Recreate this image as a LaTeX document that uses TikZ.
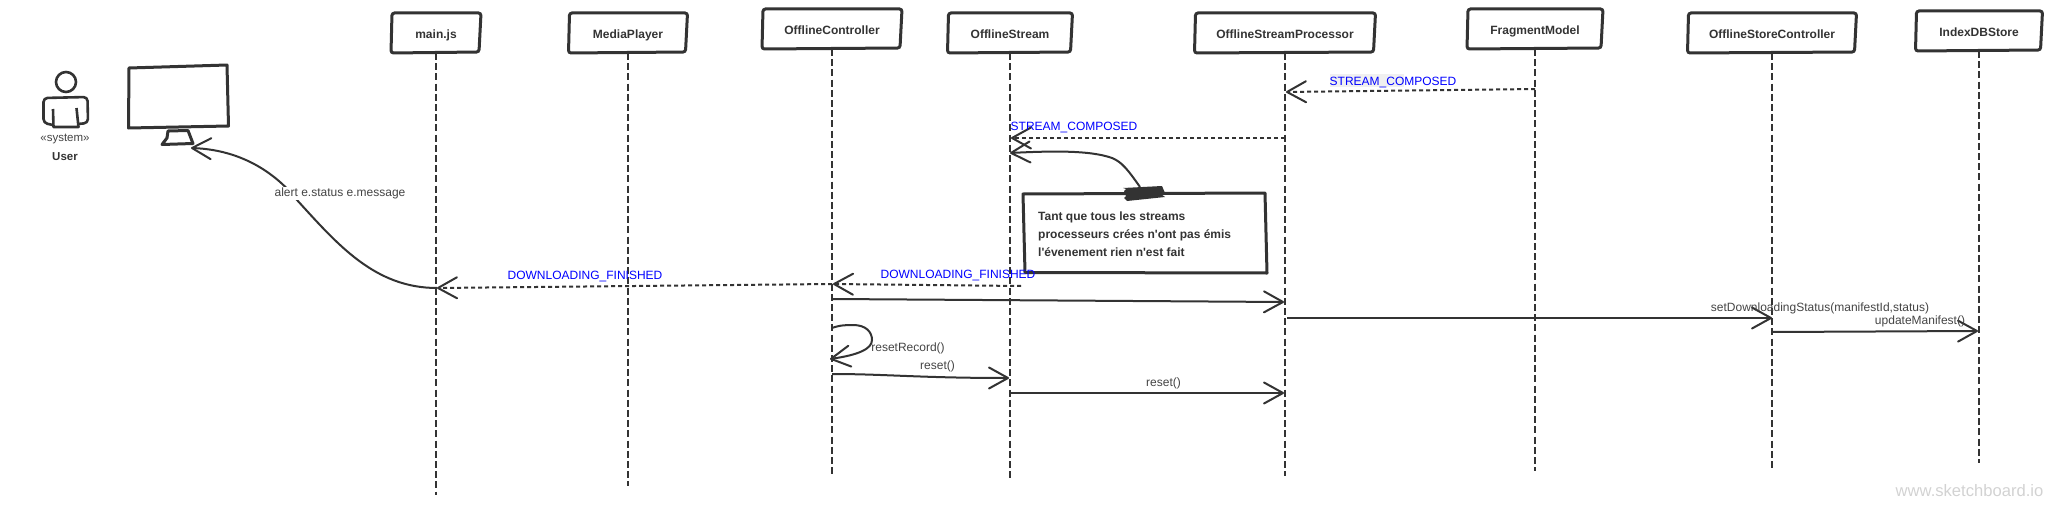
\documentclass[tikz,border=0pt]{standalone}
\usepackage{fontspec}
\setmainfont{Liberation Sans}
\newfontfamily\plainsans{Liberation Sans}
\usetikzlibrary{arrows.meta,calc}
\definecolor{ink}{HTML}{333333}
\definecolor{labelink}{HTML}{444444}
\definecolor{wm}{HTML}{D2D2D2}
\tikzset{
  actor/.style={inner sep=0pt,outer sep=0pt,minimum height=40pt,text height=12pt,text depth=1.4pt,
    text=ink,font=\bfseries\fontsize{12}{14}\selectfont},
  actorline/.style={draw=ink,line width=3pt,rounded corners=2.5pt},
  lifeline/.style={draw=ink,line width=2pt,dash pattern=on 7pt off 3.2pt},
  opentip/.style={-{Straight Barb[length=19pt,width=21pt,line width=2pt,round]}},
  msg/.style={draw=ink,line width=2pt,opentip},
  ret/.style={draw=ink,line width=2pt,opentip,dash pattern=on 4pt off 3pt},
  curvemsg/.style={draw=ink,line width=2pt,opentip},
  lbl/.style={text=labelink,font=\fontsize{12}{14}\selectfont,inner sep=0pt,yshift=-1.3pt},
  evt/.style={text=blue,font=\fontsize{12}{14}\selectfont,inner sep=0pt,yshift=-1.3pt},
  shape ink/.style={draw=ink,line width=3pt,line join=round},
  notetxt/.style={text=ink,font=\plainsans\bfseries\fontsize{12}{14}\selectfont,inner sep=0pt,anchor=west,yshift=-1.8pt}
}
\begin{document}
\begin{tikzpicture}[x=1pt,y=-1pt]
\useasboundingbox (0,0) rectangle (2064,511);
% actors
\node[actor,minimum width=90pt] (main) at (436,33) {main.js};
\node[actor,minimum width=119pt] (mp) at (628,33) {MediaPlayer};
\node[actor,minimum width=140pt] (oc) at (832,29) {OfflineController};
\node[actor,minimum width=125pt] (os) at (1010,33) {OfflineStream};
\node[actor,minimum width=181pt] (osp) at (1285,33) {OfflineStreamProcessor};
\node[actor,minimum width=136pt] (fm) at (1535,29) {FragmentModel};
\node[actor,minimum width=169pt] (osc) at (1772,33) {OfflineStoreController};
\node[actor,minimum width=127pt] (idb) at (1979,31) {IndexDBStore};
\foreach \a in {main,mp,oc,os,osp,fm,osc,idb}
  \draw[actorline] ($(\a.north west)+(1,0)$) -- (\a.north east) -- ($(\a.south east)+(-2,-1)$) -- (\a.south west) -- cycle;
% lifeline ends
\coordinate (mainE) at (436,495);
\coordinate (mpE) at (628,486);
\coordinate (ocE) at (832,476);
\coordinate (osE) at (1010,479);
\coordinate (ospE) at (1285,476);
\coordinate (fmE) at (1535,471);
\coordinate (oscE) at (1772,470);
\coordinate (idbE) at (1979,463);
\foreach \a/\b in {main/mainE,mp/mpE,oc/ocE,os/osE,osp/ospE,fm/fmE,osc/oscE,idb/idbE}
  \draw[lifeline] (\a.south) -- (\b);
% user icon
\draw[shape ink,line width=2.6pt] (66,82) circle (10pt);
\draw[shape ink,line width=2.6pt,rounded corners=4pt] (53,125) -- (43.5,123) -- (43.5,98) -- (87.5,97) -- (88,123) -- (78,124);
\draw[shape ink,line width=2.6pt] (53,109) -- (53.5,127) -- (78.5,127) -- (76.5,108);
\node[lbl,font=\fontsize{11.5}{14}\selectfont] (sysl) at (65,138) {«system»};
\node[lbl,text=ink,font=\bfseries\fontsize{11.5}{14}\selectfont] (userl) at (65,155) {User};
% monitor
\draw[shape ink] (129,68) -- (227,65) -- (228.5,126) -- (128.5,128) -- cycle;
\draw[shape ink] (168,131) -- (188,130.5) -- (193,143.5) -- (162,144.5) -- (167,138) -- cycle;
\coordinate (screen) at (191,148);
% note
\draw[shape ink,fill=white] (1023,194) -- (1265,193) -- (1267,273) -- (1025,272.5) -- cycle;
\node[notetxt] (n1) at (1038,216) {Tant que tous les streams};
\node[notetxt] (n2) at (1038,233.5) {processeurs crées n'ont pas émis};
\node[notetxt] (n3) at (1038,250.5) {l'évenement rien n'est fait};
\fill[ink] (1124,191) -- (1126,189) -- (1123,188) -- (1162,186) -- (1165,193) -- (1161,194) -- (1165,197) -- (1127,201) -- (1124,198) -- (1126,196) -- cycle;
\coordinate (tape) at (1140,187);
% message end points
\coordinate (a1) at (1535,89);   \coordinate (b1) at (1286,92);
\coordinate (a2) at (1285,138);  \coordinate (b2) at (1011,138);
\coordinate (b3) at (1010,153);
\coordinate (a4) at (1021,286);  \coordinate (b4) at (833,284);
\coordinate (a5) at (832,284);   \coordinate (b5) at (437,288);
\coordinate (a6) at (832,299);   \coordinate (b6) at (1284,302);
\coordinate (a7) at (1287,318);  \coordinate (b7) at (1772,318);
\coordinate (a8) at (1772,332);  \coordinate (b8) at (1978,331);
\coordinate (a9) at (832,328);   \coordinate (b9) at (830,359);
\coordinate (a10) at (832,374);  \coordinate (b10) at (1009,378);
\coordinate (a11) at (1010,393); \coordinate (b11) at (1284,393);
% messages
\draw[ret] (a1) -- (b1);
\draw[ret] (a2) -- (b2);
\draw[curvemsg] (tape) .. controls (1128,170) and (1122,162) .. (1112,158) .. controls (1090,150) and (1050,151) .. (b3);
\draw[ret] (a4) -- (b4);
\draw[ret] (a5) -- (b5);
\draw[msg] (a6) -- (b6);
\draw[msg] (a7) -- (b7);
\draw[msg] (a8) -- (b8);
\draw[curvemsg] (a9) .. controls (840,325) and (847,325) .. (853,325) .. controls (866,325) and (872,332) .. (872,340) .. controls (872,349) and (858,355) .. (b9);
\draw[msg] (a10) .. controls (885,374) and (920,378) .. (b10);
\draw[msg] (a11) -- (b11);
\draw[curvemsg] (b5) .. controls (375,288) and (338,245) .. (297,200) .. controls (283,182) and (250,150) .. (screen);
% labels
\fill[fill=black!6] (1330,74) rectangle (1404,87);
\node[evt] (l1) at (1393,81) {STREAM\_COMPOSED};
\node[evt] (l2) at (1074,126) {STREAM\_COMPOSED};
\node[evt] (l4) at (958,274) {DOWNLOADING\_FINISHED};
\node[evt] (l5) at (585,275) {DOWNLOADING\_FINISHED};
\node[lbl,fill=white,inner ysep=1pt] (l0) at (340,192) {alert e.status e.message};
\node[lbl] (l9) at (908,347) {resetRecord()};
\node[lbl] (l10) at (937.5,365) {reset()};
\node[lbl] (l11) at (1163.5,382) {reset()};
\node[lbl] (l7) at (1820,307) {setDownloadingStatus(manifestId,status)};
\node[lbl] (l8) at (1920,320) {updateManifest()};
\node[text=wm,font=\fontsize{16.6}{20}\selectfont,inner sep=0pt] (wmk) at (1969.5,491) {www.sketchboard.io};
\end{tikzpicture}
\end{document}
